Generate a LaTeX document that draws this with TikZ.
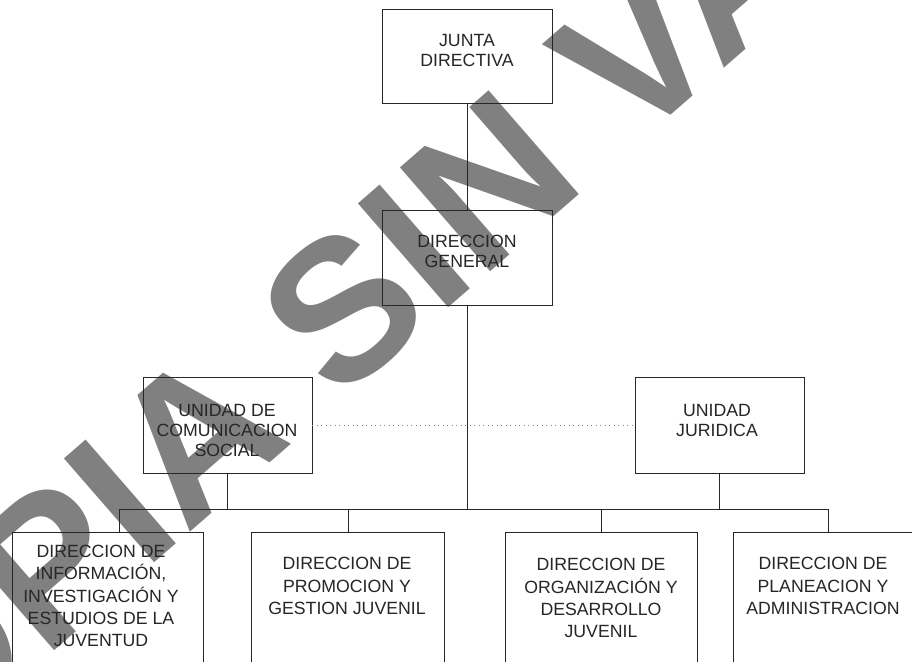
\documentclass[tikz,border=0pt]{standalone}
\usepackage{fontspec}
\setmainfont{Liberation Sans}
\newfontfamily\wmfont{Liberation Sans}
\begin{document}
\begin{tikzpicture}[x=1pt,y=-1pt,
  box/.style={draw=black!85, line width=0.9pt, inner sep=0pt},
  txt/.style={align=center, inner sep=0pt, font=\fontsize{17.7}{20}\selectfont, text=black!85},
  txtb/.style={align=center, inner sep=0pt, font=\fontsize{17.7}{22.2}\selectfont, text=black!85},
  link/.style={draw=black!85, line width=0.8pt},
  dotl/.style={draw=black!50, line width=0.8pt, dash pattern=on 1pt off 3.5pt}
]
\useasboundingbox (0,0) rectangle (912,661);
\clip (0,0) rectangle (912,661);
\fill[white] (0,0) rectangle (912,661);
% watermark
\node[rotate=41, text=gray, inner sep=0pt, font=\wmfont\bfseries\fontsize{200}{200}\selectfont] (wm) at (438,226) {COPIA SIN VALOR};
% boxes
\node[box, minimum width=170pt, minimum height=94pt] (jd) at (467,56) {};
\node[box, minimum width=170pt, minimum height=95pt] (dg) at (467,257.5) {};
\node[box, minimum width=169pt, minimum height=96pt] (ucs) at (227.5,425) {};
\node[box, minimum width=169pt, minimum height=96pt] (uj) at (719.5,425) {};
\node[box, minimum width=191pt, minimum height=200pt] (b1) at (107.5,632) {};
\node[box, minimum width=193pt, minimum height=200pt] (b2) at (348,632.5) {};
\node[box, minimum width=192pt, minimum height=200pt] (b3) at (601,632.5) {};
\node[box, minimum width=192pt, minimum height=200pt] (b4) at (829,632.5) {};
% texts
\node[txt] (jdt) at (467,50.5) {JUNTA\\DIRECTIVA};
\node[txt] (dgt) at (467,251.5) {DIRECCION\\GENERAL};
\node[txt] (ucst) at (227,430) {UNIDAD DE\\COMUNICACION\\SOCIAL};
\node[txt] (ujt) at (717,420) {UNIDAD\\JURIDICA};
\node[txtb] (b1t) at (101,596) {DIRECCION DE\\INFORMACIÓN,\\INVESTIGACIÓN Y\\ESTUDIOS DE LA\\JUVENTUD};
\node[txtb] (b2t) at (347,586) {DIRECCION DE\\PROMOCION Y\\GESTION JUVENIL};
\node[txtb] (b3t) at (601,598) {DIRECCION DE\\ORGANIZACIÓN Y\\DESARROLLO\\JUVENIL};
\node[txtb] (b4t) at (823,586) {DIRECCION DE\\PLANEACION Y\\ADMINISTRACION};
% connectors
\coordinate (busC) at (467,509);
\coordinate (busL) at (119,509);
\coordinate (busR) at (828,509);
\draw[link] (jd.south) -- (dg.north);
\draw[link] (dg.south) -- (busC);
\draw[link] (busL) -- (busR);
\draw[link] (ucs.south) -- (ucs.south |- busC);
\draw[link] (uj.south) -- (uj.south |- busC);
\draw[link] (busL) -- (busL |- b1.north);
\draw[link] (b2.north |- busC) -- (b2.north);
\draw[link] (b3.north |- busC) -- (b3.north);
\draw[link] (busR) -- (busR |- b4.north);
\draw[dotl] (ucs.east) -- (uj.west);
\end{tikzpicture}
\end{document}
